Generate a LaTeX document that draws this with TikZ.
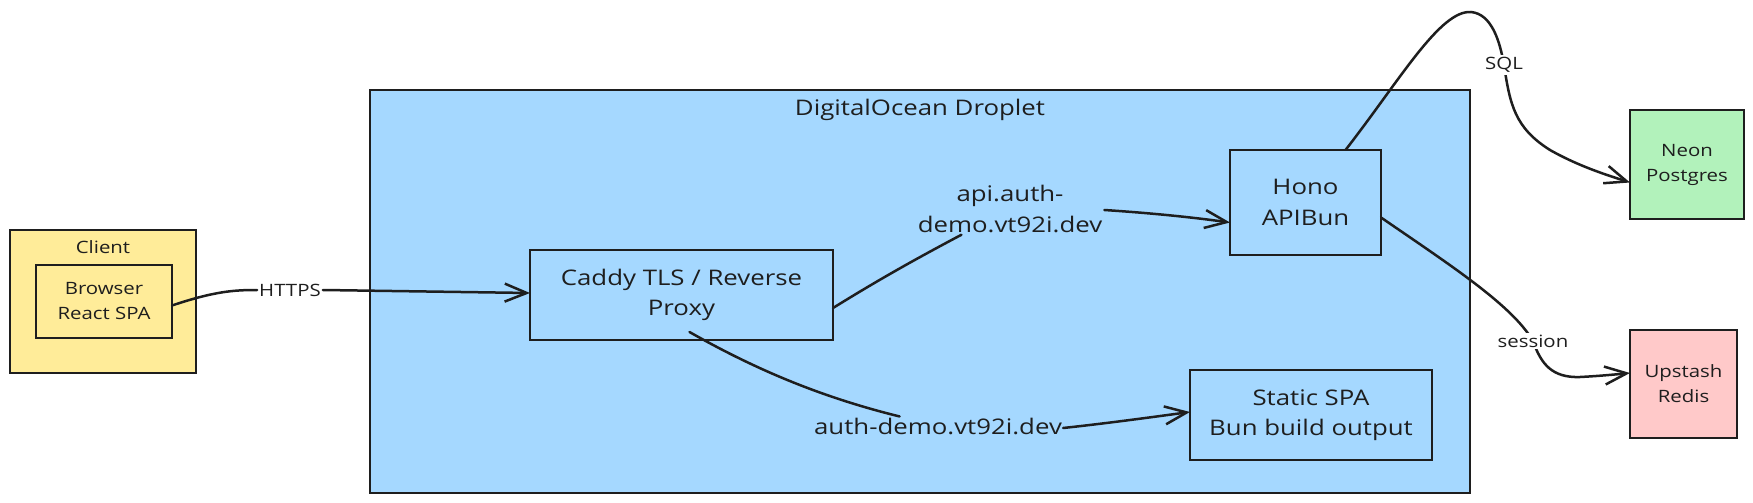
\documentclass[tikz,border=0pt]{standalone}
\usepackage{fontspec}
\setmainfont{Open Sans}[FakeStretch=1.2]
\usetikzlibrary{arrows.meta}
\definecolor{ink}{HTML}{1E1E1E}
\definecolor{yel}{HTML}{FFEC99}
\definecolor{blu}{HTML}{A5D8FF}
\definecolor{grn}{HTML}{B2F2BB}
\definecolor{pnk}{HTML}{FFC9C9}
\newcommand\bigtxt{\fontsize{21.5}{30.5}\selectfont}
\newcommand\smalltxt{\fontsize{17}{25}\selectfont}
\tikzset{
  box/.style={draw=ink, line width=2.5pt, inner sep=0pt, outer sep=0pt, align=center, text=ink, font=\bigtxt},
  smallbox/.style={box, font=\smalltxt},
  lbl/.style={text=ink, font=\bigtxt, align=center, inner sep=2pt},
  slbl/.style={text=ink, font=\smalltxt, align=center, inner sep=2pt, fill=white},
  conn/.style={draw=ink, line width=2.5pt, line cap=round, line join=round},
  arr/.style={conn, -{Straight Barb[length=22pt,width=18pt,line width=2.5pt]}}
}
\begin{document}
\begin{tikzpicture}[x=1pt,y=-1pt]
\useasboundingbox (0,0) rectangle (1753,503);
% containers
\node[smallbox, fill=yel, minimum width=186pt, minimum height=143pt] (client) at (103,301.5) {};
\node[text=ink, font=\smalltxt] (clientlbl) at (103,247) {Client};
\node[smallbox, minimum width=136pt, minimum height=73pt] (browser) at (104,301.5) {Browser\\React SPA};
\node[box, fill=blu, minimum width=1100pt, minimum height=403pt] (droplet) at (920,291.5) {};
\node[text=ink, font=\bigtxt] (dropletlbl) at (920,110) {DigitalOcean Droplet};
% inner nodes
\node[box, minimum width=303pt, minimum height=90pt] (caddy) at (681.5,295) {Caddy TLS / Reverse\\Proxy};
\node[box, minimum width=151pt, minimum height=105pt] (hono) at (1305.5,202.5) {Hono\\APIBun};
\node[box, minimum width=242pt, minimum height=90pt] (static) at (1311,415) {Static SPA\\Bun build output};
\node[smallbox, fill=grn, minimum width=114pt, minimum height=109pt] (neon) at (1687,164.5) {Neon\\Postgres};
\node[smallbox, fill=pnk, minimum width=107pt, minimum height=108pt] (upstash) at (1683.5,384) {Upstash\\Redis};
% Browser -> Caddy
\node[slbl] (https) at (290,290) {HTTPS};
\draw[conn] ([yshift=-4pt]browser.east) .. controls (215,291) and (235,290) .. (https.west);
\draw[arr] (https.east) -- ([yshift=2pt]caddy.west);
% Caddy -> Hono
\node[lbl] (apilbl) at (1010,209) {api.auth-\\demo.vt92i.dev};
\draw[conn] ([yshift=-13pt]caddy.east) .. controls (875,282) and (910,262) .. (apilbl);
\draw[arr] ([yshift=-1pt]apilbl.east) .. controls (1150,213) and (1190,217) .. ([yshift=-20pt]hono.west);
% Caddy -> Static
\node[lbl, inner sep=1pt] (authlbl) at (938,426) {auth-demo.vt92i.dev};
\draw[conn] ([xshift=8pt,yshift=8pt]caddy.south) .. controls (760,372) and (825,398) .. (authlbl);
\draw[arr] ([yshift=-2pt]authlbl.east) .. controls (1110,423) and (1160,416) .. ([yshift=3pt]static.west);
% Hono -> Neon
\draw[arr] ([xshift=40pt]hono.north) .. controls (1400,80) and (1440,10) .. (1471,12)
  .. controls (1492,14) and (1500,42) .. (1504,65)
  .. controls (1510,105) and (1515,128) .. (1550,150)
  .. controls (1580,167) and (1610,176) .. ([yshift=-18pt]neon.west);
\node[slbl] (sql) at (1504,65) {SQL};
% Hono -> Upstash
\draw[arr] ([yshift=-15pt]hono.east) .. controls (1450,265) and (1512,305) .. (1533,341)
  .. controls (1541,364) and (1552,378) .. (1580,377)
  .. controls (1600,376) and (1620,374) .. ([yshift=11pt]upstash.west);
\node[slbl] (session) at (1533,341) {session};
\end{tikzpicture}
\end{document}
